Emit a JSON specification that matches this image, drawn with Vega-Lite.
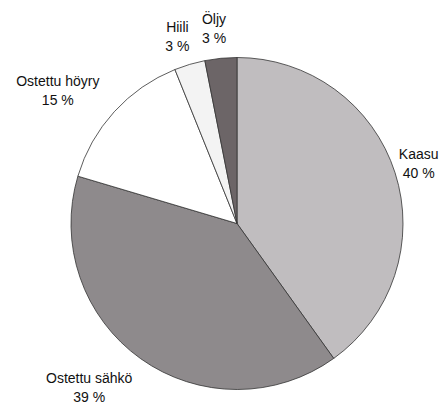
{
  "$schema": "https://vega.github.io/schema/vega-lite/v6.json",
  "autosize": {"type": "none"},
  "padding": {"left": 30, "top": 44, "right": 0, "bottom": 0},
  "width": 414,
  "height": 359,
  "background": "white",
  "config": {"view": {"stroke": null}},
  "data": {
    "values": [
      {"n": 1, "nimi": "Kaasu", "arvo": 40.1, "label": "Kaasu\n40 %"},
      {"n": 2, "nimi": "Ostettu sähkö", "arvo": 39.5, "label": "Ostettu sähkö\n39 %"},
      {"n": 3, "nimi": "Ostettu höyry", "arvo": 14.3, "label": "Ostettu höyry\n15 %"},
      {"n": 4, "nimi": "Hiili", "arvo": 3.0, "label": "Hiili\n3 %"},
      {"n": 5, "nimi": "Öljy", "arvo": 3.1, "label": "Öljy\n3 %"}
    ]
  },
  "encoding": {
    "theta": {"field": "arvo", "type": "quantitative", "stack": true},
    "order": {"field": "n", "type": "quantitative"}
  },
  "layer": [
    {
      "mark": {"type": "arc", "outerRadius": 166, "stroke": "#333333", "strokeWidth": 0.8},
      "encoding": {
        "color": {
          "field": "nimi",
          "type": "nominal",
          "scale": {
            "domain": ["Kaasu", "Ostettu sähkö", "Ostettu höyry", "Hiili", "Öljy"],
            "range": ["#c0bdbf", "#8e8a8c", "#ffffff", "#f3f3f3", "#6c6567"]
          },
          "legend": null
        }
      }
    },
    {
      "mark": {"type": "text", "radius": 195, "dx": -4, "dy": -9, "font": "Liberation Sans", "fontSize": 14, "lineBreak": "\n", "lineHeight": 19, "align": "center", "baseline": "middle", "color": "#111111"},
      "encoding": {
        "text": {"condition": {"test": "datum.n == 1 || datum.n == 4 || datum.n == 5", "field": "label"}, "value": ""}
      }
    },
    {
      "mark": {"type": "text", "radius": 222, "dx": -15, "dy": 8, "font": "Liberation Sans", "fontSize": 14, "lineBreak": "\n", "lineHeight": 19, "align": "center", "baseline": "middle", "color": "#111111"},
      "encoding": {
        "text": {"condition": {"test": "datum.n == 3", "field": "label"}, "value": ""}
      }
    },
    {
      "mark": {"type": "text", "radius": 222, "dx": -19, "dy": -25, "font": "Liberation Sans", "fontSize": 14, "lineBreak": "\n", "lineHeight": 19, "align": "center", "baseline": "middle", "color": "#111111"},
      "encoding": {
        "text": {"condition": {"test": "datum.n == 2", "field": "label"}, "value": ""}
      }
    }
  ]
}
